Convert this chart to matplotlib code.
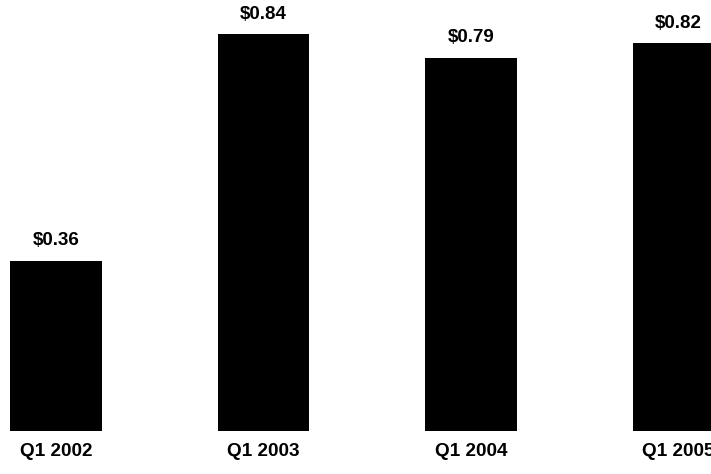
import matplotlib
matplotlib.use("Agg")
import matplotlib.pyplot as plt

categories = ["Q1 2002", "Q1 2003", "Q1 2004", "Q1 2005"]
values = [0.36, 0.84, 0.79, 0.82]
value_labels = ["$0.36", "$0.84", "$0.79", "$0.82"]

plt.rcParams['font.family'] = ['Liberation Sans', 'DejaVu Sans']

fig = plt.figure(figsize=(7.11, 4.74), dpi=100)
ax = fig.add_axes([0, 43 / 474, 1, 431 / 474])
x = list(range(len(categories)))
ax.bar(x, values, width=0.4386, color="#000000", edgecolor="none")
ax.set_xlim(-56 / 207.5, (711 - 56) / 207.5)
ax.set_ylim(0, 431 / 472.6)
ax.axis("off")

for xi, v, lab, cat in zip(x, values, value_labels, categories):
    ax.annotate(lab, xy=(xi, v), xytext=(0, 20), textcoords="offset pixels",
                ha="center", va="center", fontsize=13.5, fontweight="bold",
                annotation_clip=False)
    ax.annotate(cat, xy=(xi, 0), xytext=(0, -20), textcoords="offset pixels",
                ha="center", va="center", fontsize=13.7, fontweight="bold",
                annotation_clip=False)

fig.savefig("out.png", dpi=100)
